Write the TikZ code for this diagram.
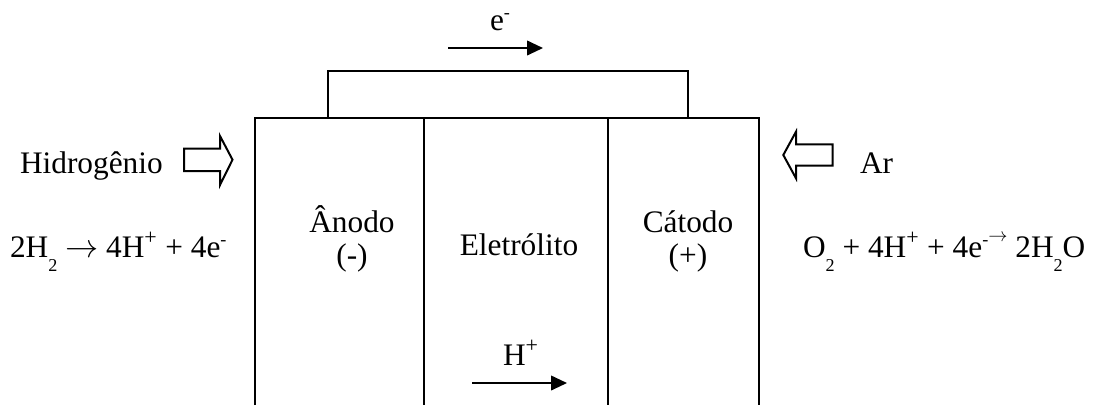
\documentclass[tikz,border=0pt]{standalone}
\usepackage{fontspec}
\setmainfont{Liberation Serif}
\usetikzlibrary{arrows.meta}
\newcommand\lowsub[1]{\raisebox{-10.5pt}{\fontsize{13.6}{14}\selectfont #1}}
\newcommand\upsup[1]{\raisebox{8.5pt}{\fontsize{13.6}{14}\selectfont #1}}
\newcommand\uparrowsmall{\raisebox{11.5pt}{\fontsize{14}{14}\selectfont$\rightarrow$}}
\tikzset{
  lbl/.style={inner sep=0pt, outer sep=0pt, font=\fontsize{23.5}{28}\selectfont},
  cellline/.style={line width=1.5pt},
  wireline/.style={line width=1.5pt},
  flowarrow/.style={line width=1.4pt, -{Triangle[length=12pt,width=11pt]}},
  blockarrow/.style={line width=1.5pt, line join=miter, fill=white}
}
\begin{document}
\begin{tikzpicture}[x=0.75pt,y=-0.75pt]
\useasboundingbox (0,0) rectangle (1095,405);
% cell
\coordinate (tl) at (255,118);
\coordinate (tr) at (759,118);
\coordinate (bl) at (255,405);
\coordinate (br) at (759,405);
\coordinate (d1t) at (424,118);
\coordinate (d1b) at (424,405);
\coordinate (d2t) at (608,118);
\coordinate (d2b) at (608,405);
\draw[cellline] (bl) -- (tl) -- (tr) -- (br);
\draw[cellline] (d1t) -- (d1b);
\draw[cellline] (d2t) -- (d2b);
% external wire
\coordinate (wl) at (328,118);
\coordinate (wr) at (688,118);
\draw[wireline] (wl) -- (328,71) -- (688,71) -- (wr);
% electron flow
\coordinate (ea) at (448,48);
\coordinate (eb) at (543,48);
\draw[flowarrow] (ea) -- (eb);
\node[lbl, anchor=base west] (elab) at (490,30) {e\upsup{-}};
% proton flow
\coordinate (ha) at (472,383);
\coordinate (hb) at (567,383);
\draw[flowarrow] (ha) -- (hb);
\node[lbl, anchor=base west] (hlab) at (503,365) {H\textsuperscript{+}};
% block arrows
\draw[blockarrow] (184,148.5) -- (220,148.5) -- (220,136) -- (232.5,159.7) -- (220,185) -- (220,171) -- (184,171) -- cycle;
\draw[blockarrow] (832.5,144.3) -- (796,144.3) -- (796,131.7) -- (783.3,155) -- (796,178.3) -- (796,165.7) -- (832.5,165.7) -- cycle;
% labels
\node[lbl, anchor=base west] (hid) at (20,173) {Hidrogênio};
\node[lbl, anchor=base west] (ar) at (860,173) {Ar};
\node[lbl, anchor=base west] (eqa) at (10,257) {2H\lowsub{2} $\rightarrow$ 4H\textsuperscript{+} + 4e\upsup{-}};
\node[lbl, anchor=base west] (eqc) at (803,257) {O\lowsub{2} + 4H\textsuperscript{+} + 4e\upsup{-}\uparrowsmall{} 2H\lowsub{2}O};
\node[lbl, anchor=base] (anodo) at (352,232) {Ânodo};
\node[lbl, anchor=base] (anodos) at (352,265) {(-)};
\node[lbl, anchor=base] (eletr) at (519,255) {Eletrólito};
\node[lbl, anchor=base] (catodo) at (688,232) {Cátodo};
\node[lbl, anchor=base] (catodos) at (688,265) {(+)};
\end{tikzpicture}
\end{document}
